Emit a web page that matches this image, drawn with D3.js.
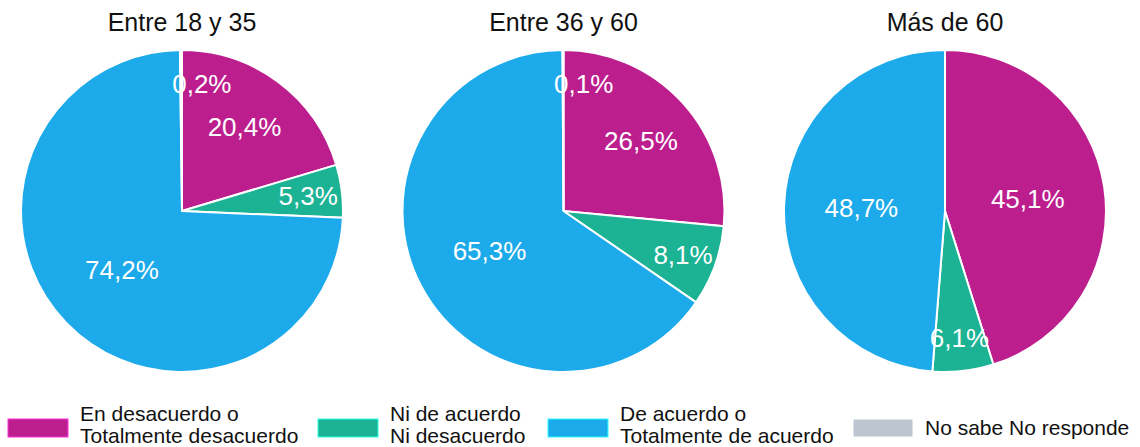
<html>
<head>
  <title>Pies por edad</title>
  <meta charset="utf-8" />
  <style type="text/css">
    body { margin: 0; background: white; }
    svg { font-family: "Liberation Sans", Arial, sans-serif; }
  </style>
  <script src="https://cdn.jsdelivr.net/npm/d3@7/dist/d3.min.js" charset="utf-8"></script>
</head>
<body>
  <svg width="1140" height="447"></svg>
<script>
  // data
  var groups = ["Entre 18 y 35", "Entre 36 y 60", "Más de 60"];
  var categories = ["En desacuerdo o\nTotalmente desacuerdo", "Ni de acuerdo\nNi desacuerdo", "De acuerdo o\nTotalmente de acuerdo", "No sabe No responde"];
  var desacuerdo = [20.4, 26.5, 45.1];
  var neutral = [5.3, 8.1, 6.1];
  var acuerdo = [74.2, 65.3, 48.7];
  var nsnr = [0.2, 0.1, 0];
  var colorList = ["#bd1e8e", "#1bb394", "#1caaeb", "#bdc6d0"];

  var svg = d3.select("svg");
  var radius = 161;
  var cy = 211;

  var x = d3.scalePoint().domain(groups).range([182, 945]);
  var color = d3.scaleOrdinal().domain(categories).range(colorList);

  var pie = d3.pie().sort(null).value(function (d) { return d.v });
  var arc = d3.arc().innerRadius(0).outerRadius(radius);

  function labelFrac(v) {
    if (v >= 40) return 0.52;
    if (v >= 15) return 0.65;
    return 0.79;
  }

  groups.forEach(function (g, i) {
    var vals = [desacuerdo[i], neutral[i], acuerdo[i], nsnr[i]].map(function (v, k) {
      return { cat: categories[k], v: v };
    });
    var arcs = pie(vals);

    var grp = svg.append("g").attr("transform", "translate(" + x(g) + "," + cy + ")");

    grp.selectAll("path")
      .data(arcs)
      .enter()
      .append("path")
      .attr("d", arc)
      .style("fill", function (d) { return color(d.data.cat) })
      .style("stroke", "white")
      .style("stroke-width", 2);

    grp.selectAll("text.lbl")
      .data(arcs.filter(function (d) { return d.data.v > 0 }))
      .enter()
      .append("text")
      .attr("class", "lbl")
      .each(function (d) {
        var f = labelFrac(d.data.v);
        var a = (d.startAngle + d.endAngle) / 2;
        var r = radius * f;
        var px = Math.sin(a) * r, py = -Math.cos(a) * r;
        var t = d3.select(this);
        if (d.data.v < 1) {
          t.attr("x", px - 9).style("text-anchor", "start");
        } else {
          t.attr("x", px).style("text-anchor", "middle");
        }
        t.attr("y", py).attr("dy", "0.36em");
      })
      .text(function (d) { return d.data.v.toFixed(1).replace(".", ",") + "%" })
      .style("fill", "white")
      .style("font-size", "26px");

    svg.append("text")
      .attr("x", x(g))
      .attr("y", 31)
      .style("text-anchor", "middle")
      .style("font-size", "25px")
      .style("fill", "#111")
      .text(g);
  });

  // legend
  var legendX = [8, 318, 548, 853];
  var leg = svg.selectAll("g.leg")
    .data(categories)
    .enter()
    .append("g")
    .attr("class", "leg")
    .attr("transform", function (d, i) { return "translate(" + legendX[i] + ",419)" });

  leg.append("rect")
    .attr("width", 60)
    .attr("height", 18)
    .style("fill", function (d) { return color(d) })
    .style("stroke", function (d) { return d3.color(color(d)).brighter(1.2) })
    .style("stroke-width", 1);

  leg.each(function (d) {
    var lines = d.split("\n");
    var t = d3.select(this).append("text")
      .style("font-size", "21px")
      .style("fill", "#111");
    var y0 = lines.length > 1 ? 2 : 16;
    lines.forEach(function (l, j) {
      t.append("tspan").attr("x", 72).attr("y", y0 + j * 22).text(l);
    });
  });
</script>
</body>
</html>
